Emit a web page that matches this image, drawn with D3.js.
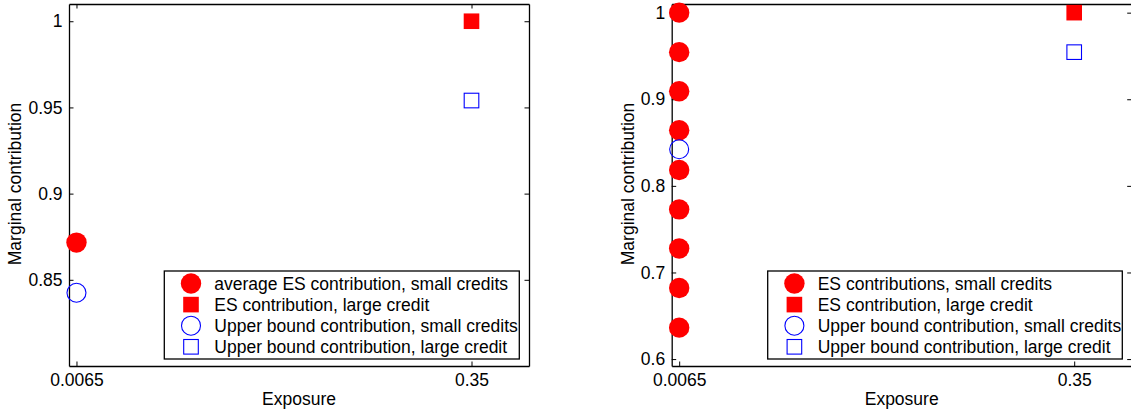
<!DOCTYPE html>
<html>
<head>
<meta charset="utf-8">
<script src="https://cdn.jsdelivr.net/npm/d3@7"></script>
<style>
  html, body { margin: 0; padding: 0; background: #fff; }
  svg text { font-family: "Liberation Sans", Arial, Helvetica, sans-serif; fill: #000; }
</style>
</head>
<body>
<svg id="chart" width="1131" height="413"></svg>
<script>
// ---- data ----
const xTickValues = [0.0065, 0.35];
const xTickLabels = ["0.0065", "0.35"];

const leftYTickValues = [0.85, 0.9, 0.95, 1];
const leftYTickLabels = ["0.85", "0.9", "0.95", "1"];
const rightYTickValues = [0.6, 0.7, 0.8, 0.9, 1];
const rightYTickLabels = ["0.6", "0.7", "0.8", "0.9", "1"];

const smallExposure = 0.0065;
const largeExposure = 0.35;

// left panel
const leftAvgESSmall = [0.8716];
const leftESLarge = [1.0];
const leftUBSmall = [0.8425];
const leftUBLarge = [0.954];

// right panel
const rightESSmall = [1.0, 0.9544, 0.9092, 0.8643, 0.8184, 0.7728, 0.7276, 0.6821, 0.6363];
const rightESLarge = [1.0];
const rightUBSmall = [0.8423];
const rightUBLarge = [0.9544];

const leftLegend = ["average ES contribution, small credits", "ES contribution, large credit",
                    "Upper bound contribution, small credits", "Upper bound contribution, large credit"];
const rightLegend = ["ES contributions, small credits", "ES contribution, large credit",
                     "Upper bound contribution, small credits", "Upper bound contribution, large credit"];

// ---- drawing ----
const svg = d3.select("#chart");
const FS = 17.5;
const TICK = 4.5;

function panel(cfg) {
  const x = d3.scaleLinear().domain([0, 0.4]).range([cfg.x0, cfg.x1]);
  const y = d3.scaleLinear().domain(cfg.yDomain).range([cfg.y1, cfg.y0]);
  const g = svg.append("g");

  const styleAxis = sel => {
    sel.attr("font-size", FS).attr("font-family", null);
    sel.selectAll("path.domain").attr("stroke", "#000").attr("stroke-width", 1.3);
    sel.selectAll(".tick line").attr("stroke", "#000").attr("stroke-width", 1);
    sel.selectAll("text").attr("font-size", FS).attr("fill", "#000");
  };

  g.append("g").attr("transform", `translate(0,${cfg.y1})`)
    .call(d3.axisBottom(x).tickValues(xTickValues).tickFormat((d, i) => xTickLabels[i])
      .tickSizeInner(-TICK).tickSizeOuter(0).tickPadding(7.5))
    .call(styleAxis);
  g.append("g").attr("transform", `translate(0,${cfg.y0})`)
    .call(d3.axisTop(x).tickValues(xTickValues).tickFormat("")
      .tickSizeInner(-TICK).tickSizeOuter(0))
    .call(styleAxis);
  g.append("g").attr("transform", `translate(${cfg.x0},0)`)
    .call(d3.axisLeft(y).tickValues(cfg.yTicks).tickFormat((d, i) => cfg.yLabels[i])
      .tickSizeInner(-TICK).tickSizeOuter(0).tickPadding(6.5))
    .call(styleAxis);
  g.append("g").attr("transform", `translate(${cfg.x1},0)`)
    .call(d3.axisRight(y).tickValues(cfg.yTicks).tickFormat("")
      .tickSizeInner(-TICK).tickSizeOuter(0))
    .call(styleAxis);

  // axis titles
  g.append("text").attr("x", (cfg.x0 + cfg.x1) / 2).attr("y", 405)
    .attr("text-anchor", "middle").attr("font-size", FS).text("Exposure");
  g.append("text").attr("transform", `translate(${cfg.yLabelX},${(cfg.y0 + cfg.y1) / 2 - 1}) rotate(-90)`)
    .attr("text-anchor", "middle").attr("font-size", FS).text("Marginal contribution");

  // markers
  const R = 10.2, RO = 9.5, S = 15.6;
  g.selectAll(".esSmall").data(cfg.esSmall).enter().append("circle")
    .attr("cx", x(smallExposure)).attr("cy", d => y(d)).attr("r", R).attr("fill", "#ff0000");
  g.selectAll(".esLarge").data(cfg.esLarge).enter().append("rect")
    .attr("x", x(largeExposure) - S / 2).attr("y", d => y(d) - S / 2)
    .attr("width", S).attr("height", S).attr("fill", "#ff0000");
  g.selectAll(".ubSmall").data(cfg.ubSmall).enter().append("circle")
    .attr("cx", x(smallExposure)).attr("cy", d => y(d)).attr("r", RO)
    .attr("fill", "none").attr("stroke", "#0000ff").attr("stroke-width", 1.1);
  g.selectAll(".ubLarge").data(cfg.ubLarge).enter().append("rect")
    .attr("x", x(largeExposure) - S / 2 + 0.5).attr("y", d => y(d) - S / 2 + 0.5)
    .attr("width", S - 1).attr("height", S - 1)
    .attr("fill", "none").attr("stroke", "#0000ff").attr("stroke-width", 1.1);

  // legend
  const L = cfg.legend;
  const lg = g.append("g");
  lg.append("rect").attr("x", L.x0).attr("y", L.y0).attr("width", L.x1 - L.x0).attr("height", L.y1 - L.y0)
    .attr("fill", "#fff").attr("stroke", "#000").attr("stroke-width", 1.3);
  const rowY = i => L.y0 + 12.5 + i * 21.1;
  const mx = L.x0 + 26.7;
  lg.append("circle").attr("cx", mx).attr("cy", rowY(0)).attr("r", R).attr("fill", "#ff0000");
  lg.append("rect").attr("x", mx - S / 2).attr("y", rowY(1) - S / 2).attr("width", S).attr("height", S).attr("fill", "#ff0000");
  lg.append("circle").attr("cx", mx).attr("cy", rowY(2)).attr("r", RO)
    .attr("fill", "none").attr("stroke", "#0000ff").attr("stroke-width", 1.1);
  lg.append("rect").attr("x", mx - S / 2 + 0.5).attr("y", rowY(3) - S / 2 + 0.5).attr("width", S - 1).attr("height", S - 1)
    .attr("fill", "none").attr("stroke", "#0000ff").attr("stroke-width", 1.1);
  lg.selectAll(".lt").data(cfg.legendLabels).enter().append("text")
    .attr("x", L.x0 + 50).attr("y", (d, i) => rowY(i)).attr("dy", "0.35em")
    .attr("font-size", FS).text(d => d);
}

panel({
  x0: 69, x1: 529, y0: 4, y1: 366,
  yDomain: [0.8, 1.01], yTicks: leftYTickValues, yLabels: leftYTickLabels,
  yLabelX: 21,
  esSmall: leftAvgESSmall, esLarge: leftESLarge, ubSmall: leftUBSmall, ubLarge: leftUBLarge,
  legend: { x0: 164.3, x1: 519.3, y0: 271, y1: 359 },
  legendLabels: leftLegend
});

panel({
  x0: 671.7, x1: 1131.7, y0: 4, y1: 366,
  yDomain: [0.592, 1.01], yTicks: rightYTickValues, yLabels: rightYTickLabels,
  yLabelX: 634.3,
  esSmall: rightESSmall, esLarge: rightESLarge, ubSmall: rightUBSmall, ubLarge: rightUBLarge,
  legend: { x0: 767.7, x1: 1122.3, y0: 271, y1: 359 },
  legendLabels: rightLegend
});
</script>
</body>
</html>
